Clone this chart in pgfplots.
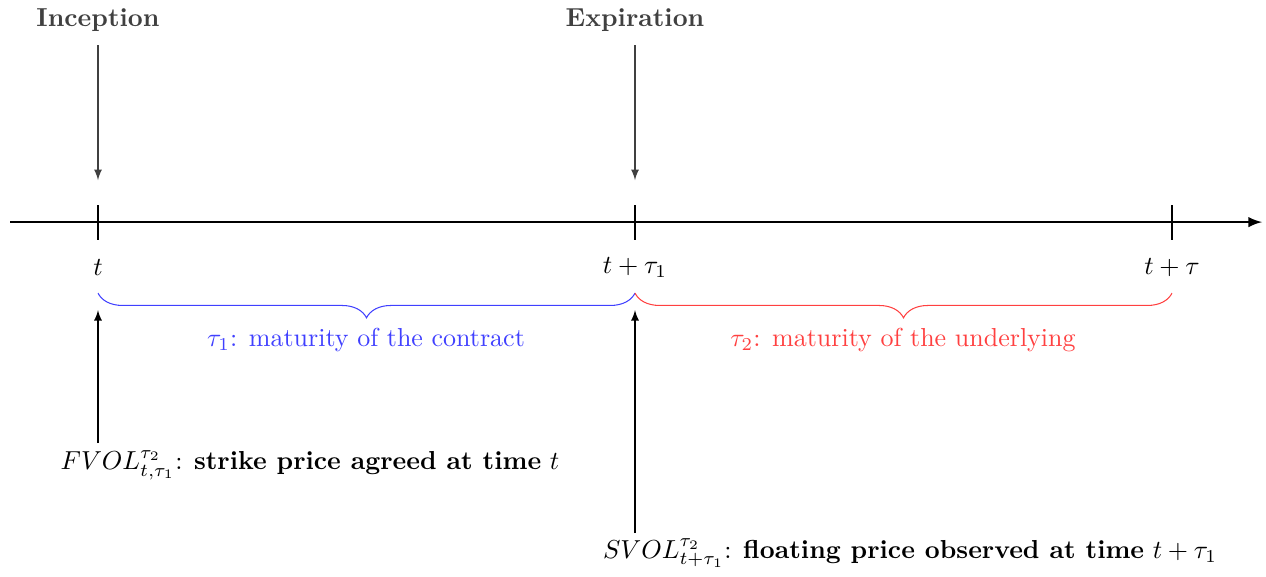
\documentclass[border=0pt]{standalone}
\usepackage{pgfplots}
\pgfplotsset{compat=1.18}
\usetikzlibrary{decorations.pathreplacing,arrows}
\begin{document}
\begin{tikzpicture}
\begin{axis}[
  scale only axis, width=487pt, height=221.2pt,
  xmin=0, xmax=1266, ymin=0, ymax=575, y dir=reverse,
  hide axis, clip=false]
% invisible frame
\addplot[draw=none] coordinates {(0,0) (1266,575)};
% main timeline
\addplot[thick, -latex] coordinates {(10,222) (1262,222)};
% ticks
\addplot[thick] coordinates {(98,205) (98,240)};
\addplot[thick] coordinates {(635,205) (635,240)};
\addplot[thick] coordinates {(1172,205) (1172,240)};
% down arrows
\addplot[black!75, -latex] coordinates {(98,45) (98,180)};
\addplot[black!75, -latex] coordinates {(635,45) (635,180)};
% up arrows
\addplot[black, -latex] coordinates {(98,443) (98,310)};
\addplot[black, -latex] coordinates {(635,533) (635,310)};
% braces
\draw[blue!75, decorate, decoration={brace, mirror, amplitude=9.5pt}] (axis cs:98,293) -- (axis cs:635,293);
\draw[red!75, decorate, decoration={brace, mirror, amplitude=9.5pt}] (axis cs:635,293) -- (axis cs:1172,293);
% labels
\node[text=black!75, font=\bfseries] at (axis cs:98,20) {Inception};
\node[text=black!75, font=\bfseries] at (axis cs:635,20) {Expiration};
\node at (axis cs:98,267) {$t$};
\node at (axis cs:635,267) {$t+\tau_1$};
\node at (axis cs:1172,267) {$t+\tau$};
\node[text=blue!75] at (axis cs:366,340) {$\tau_1$: maturity of the contract};
\node[text=red!75] at (axis cs:903,340) {$\tau_2$: maturity of the underlying};
\node at (axis cs:310,465) {$FVOL^{\tau_2}_{t,\tau_1}$: \textbf{strike price agreed at time} $t$};
\node at (axis cs:910,553) {$SVOL^{\tau_2}_{t+\tau_1}$: \textbf{floating price observed at time} $t+\tau_1$};
\end{axis}
\end{tikzpicture}
\end{document}
